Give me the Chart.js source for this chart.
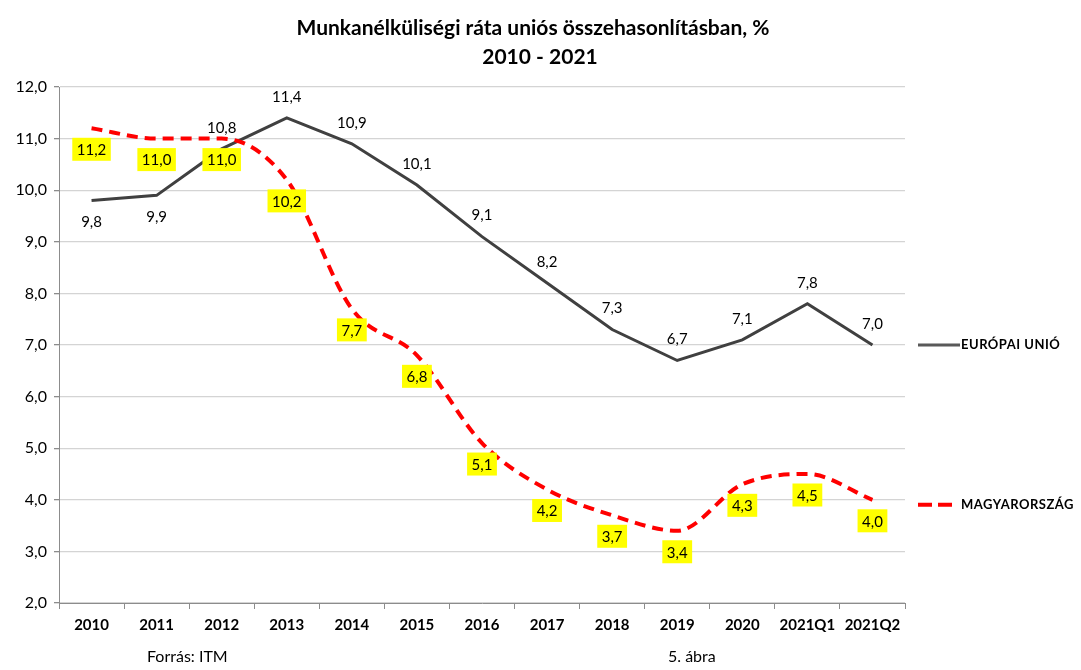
<!DOCTYPE html>
<html>
<head>
<meta charset="utf-8">
<script src="https://cdn.jsdelivr.net/npm/chart.js@4.4.0/dist/chart.umd.min.js"></script>
<style>
  html, body { margin: 0; padding: 0; background: #fff; }
  #wrap { width: 1081px; height: 670px; }
</style>
</head>
<body>
<div id="wrap"><canvas id="chart" width="1081" height="670"></canvas></div>
<script>
// adatok
const categories = ['2010', '2011', '2012', '2013', '2014', '2015', '2016', '2017', '2018', '2019', '2020', '2021Q1', '2021Q2'];
const euValues = [9.8, 9.9, 10.8, 11.4, 10.9, 10.1, 9.1, 8.2, 7.3, 6.7, 7.1, 7.8, 7.0];
const huValues = [11.2, 11.0, 11.0, 10.2, 7.7, 6.8, 5.1, 4.2, 3.7, 3.4, 4.3, 4.5, 4.0];
const yTicks = [2, 3, 4, 5, 6, 7, 8, 9, 10, 11, 12];

const FONT = 'Lato, "Open Sans", sans-serif';
const fmt = v => v.toFixed(1).replace('.', ',');

// EU címkék: az első kettő a vonal alatt
const euBelow = [true, true, false, false, false, false, false, false, false, false, false, false, false];

const labelPlugin = {
    id: 'labels',
    afterDatasetsDraw(chart) {
        const ctx = chart.ctx;
        const y = chart.scales.y;
        ctx.save();
        ctx.font = '15px ' + FONT;
        ctx.textAlign = 'center';
        ctx.textBaseline = 'middle';

        // EU értékek
        chart.getDatasetMeta(1).data.forEach((pt, i) => {
            const dy = euBelow[i] ? 22 : -21;
            ctx.fillStyle = '#000';
            ctx.fillText(fmt(euValues[i]), pt.x, pt.y + dy);
        });

        // magyar értékek sárga dobozban
        chart.getDatasetMeta(0).data.forEach((pt, i) => {
            const txt = fmt(huValues[i]);
            const w = ctx.measureText(txt).width + 9;
            const h = 23;
            const cy = pt.y + 21;
            ctx.fillStyle = '#ffff00';
            ctx.fillRect(pt.x - w / 2, cy - h / 2, w, h);
            ctx.fillStyle = '#000';
            ctx.fillText(txt, pt.x, cy + 1);
        });

        // jelmagyarázat a sorozatok végénél
        const lx = chart.chartArea.right + 13;
        const euY = y.getPixelForValue(euValues[euValues.length - 1]);
        const huY = y.getPixelForValue(huValues[huValues.length - 1]) + 5;
        ctx.lineWidth = 3;
        ctx.strokeStyle = '#595959';
        ctx.beginPath();
        ctx.moveTo(lx, euY);
        ctx.lineTo(lx + 42, euY);
        ctx.stroke();
        ctx.lineWidth = 4;
        ctx.strokeStyle = '#ff0000';
        ctx.setLineDash([14, 6]);
        ctx.beginPath();
        ctx.moveTo(lx, huY);
        ctx.lineTo(lx + 34, huY);
        ctx.stroke();
        ctx.setLineDash([]);
        ctx.font = 'bold 13px ' + FONT;
        ctx.letterSpacing = '0.5px';
        ctx.textAlign = 'left';
        ctx.fillStyle = '#000';
        ctx.fillText('EURÓPAI UNIÓ', lx + 43, euY);
        ctx.fillText('MAGYARORSZÁG', lx + 43, huY);
        ctx.letterSpacing = '0px';

        // cím és lábléc
        ctx.textAlign = 'center';
        ctx.font = 'bold 21px ' + FONT;
        ctx.fillText('Munkanélküliségi ráta uniós összehasonlításban, %', 533, 28);
        ctx.fillText('2010 - 2021', 540, 57);
        ctx.font = '16px ' + FONT;
        ctx.textAlign = 'left';
        ctx.fillText('Forrás: ITM', 147, 657);
        ctx.fillText('5. ábra', 668, 657);
        ctx.restore();
    }
};

const chart = new Chart(document.getElementById('chart'), {
    type: 'line',
    data: {
        labels: categories,
        datasets: [{
            label: 'MAGYARORSZÁG',
            data: huValues,
            borderColor: '#ff0000',
            borderWidth: 4,
            borderDash: [11, 7],
            cubicInterpolationMode: 'monotone',
            pointRadius: 0,
            fill: false,
            order: 0
        }, {
            label: 'EURÓPAI UNIÓ',
            data: euValues,
            borderColor: '#404040',
            borderWidth: 3,
            tension: 0,
            pointRadius: 0,
            fill: false,
            order: 1
        }]
    },
    options: {
        responsive: false,
        animation: false,
        devicePixelRatio: 1,
        layout: { padding: { left: 0, right: 176, top: 87, bottom: 27 } },
        plugins: {
            legend: { display: false },
            title: { display: false },
            tooltip: { enabled: false }
        },
        scales: {
            x: {
                offset: true,
                grid: { offset: true, drawOnChartArea: false, drawTicks: true, tickLength: 6, color: '#8c8c8c' },
                border: { color: '#8c8c8c', width: 1 },
                ticks: { color: '#000', font: { family: FONT, size: 15, weight: 'bold' }, padding: 7, maxRotation: 0, autoSkip: false },
                afterFit: s => { s.height = 40; }
            },
            y: {
                min: 2,
                max: 12,
                afterBuildTicks: s => { s.ticks = yTicks.map(v => ({ value: v })); },
                grid: { color: '#d4d4d4', tickColor: '#8c8c8c', tickLength: 5, lineWidth: 1.3 },
                border: { color: '#8c8c8c', width: 1 },
                ticks: { color: '#000', font: { family: FONT, size: 16 }, padding: 7, callback: v => fmt(v) },
                afterFit: s => { s.width = 59; }
            }
        }
    },
    plugins: [labelPlugin]
});
</script>
</body>
</html>
